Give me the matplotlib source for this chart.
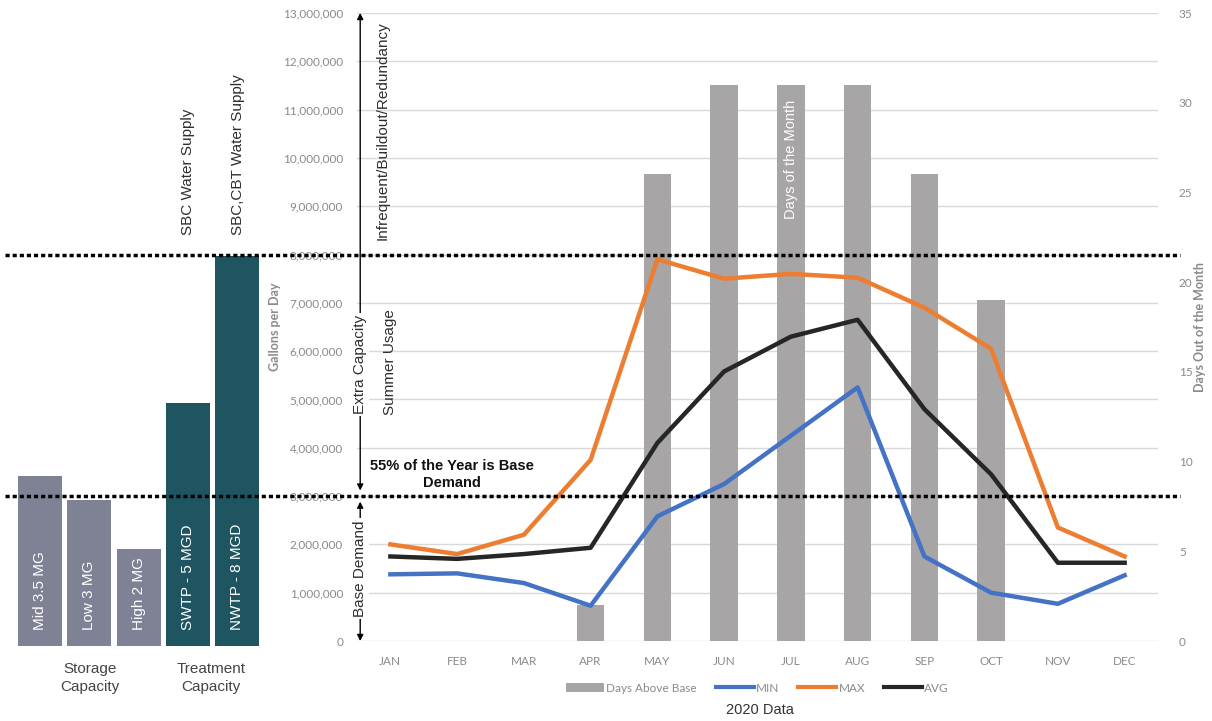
import matplotlib
matplotlib.use("Agg")
import matplotlib.pyplot as plt
from matplotlib.patches import Patch
from matplotlib.lines import Line2D
from matplotlib.ticker import FuncFormatter, MultipleLocator

# ---------------- data ----------------
months = ["JAN", "FEB", "MAR", "APR", "MAY", "JUN", "JUL", "AUG", "SEP", "OCT", "NOV", "DEC"]
days_above_base = [0, 0, 0, 2, 26, 31, 31, 31, 26, 19, 0, 0]
min_gpd = [1380000, 1400000, 1200000, 730000, 2580000, 3250000, 4250000, 5250000, 1750000, 1000000, 770000, 1360000]
max_gpd = [2000000, 1800000, 2200000, 3750000, 7900000, 7500000, 7600000, 7520000, 6900000, 6050000, 2350000, 1750000]
avg_gpd = [1750000, 1700000, 1800000, 1930000, 4100000, 5580000, 6300000, 6650000, 4800000, 3450000, 1620000, 1620000]

capacity_labels = ["Mid 3.5 MG", "Low 3 MG", "High 2 MG", "SWTP - 5 MGD", "NWTP - 8 MGD"]
capacity_values = [3.5e6, 3.0e6, 2.0e6, 5.0e6, 8.0e6]
capacity_groups = ["storage", "storage", "storage", "treatment", "treatment"]

base_demand_level = 3.0e6
capacity_level = 8.0e6

# ---------------- style ----------------
W, H = 1212, 721
def fx(px):
    return px / W
def fy(py):
    return 1 - py / H

ANN = ["Liberation Sans", "DejaVu Sans"]
TICK = ["Lato", "DejaVu Sans"]
TICK_COLOR = "#8a8a8a"
TEXT_COLOR = "#2e2e2e"
GROUP_COLORS = {"storage": "#7f8194", "treatment": "#1f5561"}
BAR_GREY = "#a7a5a6"
C_MIN, C_MAX, C_AVG = "#4472c4", "#ed7d31", "#262626"

fig = plt.figure(figsize=(W / 100, H / 100), dpi=100)
fig.patch.set_facecolor("white")

# ---------------- left capacity bars ----------------
axl = fig.add_axes([fx(15.35), fy(646), 246.5 / W, (646 - 13) / H])
axl.set_xlim(-0.5, 4.5)
axl.set_ylim(0, 13e6)
axl.axis("off")
xs = list(range(len(capacity_labels)))
axl.bar(xs, capacity_values, width=0.89,
        color=[GROUP_COLORS[g] for g in capacity_groups], zorder=1)
for xi, lab in zip(xs, capacity_labels):
    axl.text(xi, 0.33e6, lab, rotation=90, ha="center", va="bottom",
             color="white", fontsize=11, family=ANN)

fig.text(fx(90), fy(678), "Storage\nCapacity", ha="center", va="center",
         fontsize=11, family=ANN, color="#444444", linespacing=1.3)
fig.text(fx(211), fy(678), "Treatment\nCapacity", ha="center", va="center",
         fontsize=11, family=ANN, color="#444444", linespacing=1.3)
fig.text(fx(188), fy(235), "SBC Water Supply", rotation=90, ha="center", va="bottom",
         fontsize=11, family=ANN, color=TEXT_COLOR)
fig.text(fx(238), fy(235), "SBC,CBT Water Supply", rotation=90, ha="center", va="bottom",
         fontsize=11, family=ANN, color=TEXT_COLOR)

# ---------------- main chart ----------------
pos = [fx(357), fy(641), (1158 - 357) / W, (641 - 13) / H]
ax = fig.add_axes(pos)
x = list(range(len(months)))
ax.set_xlim(-0.5, len(months) - 0.5)
ax.set_ylim(0, 13e6)
ax.yaxis.set_major_locator(MultipleLocator(1e6))
ax.yaxis.set_major_formatter(FuncFormatter(lambda v, p: f"{int(v):,}"))
ax.grid(axis="y", color="#d9d9d9", lw=1)
ax.set_axisbelow(True)
for s in ax.spines.values():
    s.set_visible(False)
ax.tick_params(axis="both", length=0, colors=TICK_COLOR, labelsize=8.5)
ax.tick_params(axis="y", pad=10)
ax.tick_params(axis="x", pad=11)
ax.set_xticks(x)
ax.set_xticklabels(months)
for t in ax.get_xticklabels() + ax.get_yticklabels():
    t.set_family(TICK)
ax.set_ylabel("Gallons per Day", fontsize=9, color=TICK_COLOR, family=TICK, fontweight="bold")
ax.yaxis.set_label_coords(-0.095, 0.5)

# bars on right axis
ax2 = ax.twinx()
ax2.set_ylim(0, 35)
ax2.yaxis.set_major_locator(MultipleLocator(5))
for s in ax2.spines.values():
    s.set_visible(False)
ax2.tick_params(axis="y", length=0, colors=TICK_COLOR, labelsize=8.5, pad=15)
for t in ax2.get_yticklabels():
    t.set_family(TICK)
ax2.bar(x, days_above_base, width=0.41, color=BAR_GREY)
ax2.set_ylabel("Days Out of the Month", fontsize=9, color=TICK_COLOR, family=TICK,
               fontweight="bold", rotation=90)
ax2.yaxis.set_label_coords(1.045, 0.5)
ax2.text(6, 23.5, "Days of the Month", rotation=90, ha="center", va="bottom",
         color="white", fontsize=10.5, family=ANN)

# lines on top
ax3 = ax.twinx()
ax3.set_ylim(0, 13e6)
ax3.axis("off")
ax3.plot(x, min_gpd, color=C_MIN, lw=3.2)
ax3.plot(x, max_gpd, color=C_MAX, lw=3.2)
ax3.plot(x, avg_gpd, color=C_AVG, lw=3.2)

# dotted reference lines across the figure
for lvl in (capacity_level, base_demand_level):
    ax3.axhline(lvl, xmin=(5 - 357) / 801, xmax=(1180 - 357) / 801, color="black",
                lw=2.5, linestyle=(0, (1.2, 0.85)), dash_capstyle="butt", clip_on=False, zorder=5)

# arrows and annotations
bt = ax3.get_yaxis_transform()
ax_x = 0.004
ax3.annotate("", xy=(ax_x, 13e6), xytext=(ax_x, base_demand_level), xycoords=bt, textcoords=bt,
             arrowprops=dict(arrowstyle="<|-|>", color="black", lw=1, shrinkA=4, shrinkB=0,
                             mutation_scale=9), annotation_clip=False)
ax3.annotate("", xy=(ax_x, 0), xytext=(ax_x, base_demand_level), xycoords=bt, textcoords=bt,
             arrowprops=dict(arrowstyle="<|-|>", color="black", lw=1, shrinkA=4, shrinkB=0,
                             mutation_scale=9), annotation_clip=False)
box = dict(facecolor="white", edgecolor="none", pad=1.5)
ax3.text(ax_x, 5.72e6, "Extra Capacity", transform=bt, rotation=90, ha="center", va="center",
         fontsize=11, family=ANN, color=TEXT_COLOR, bbox=box)
ax3.text(ax_x, 1.5e6, "Base Demand", transform=bt, rotation=90, ha="center", va="center",
         fontsize=11, family=ANN, color=TEXT_COLOR, bbox=box)
ax3.text(0.032, 8.3e6, "Infrequent/Buildout/Redundancy", transform=bt, rotation=90,
         ha="center", va="bottom", fontsize=11, family=ANN, color=TEXT_COLOR)
ax3.text(0.041, 4.68e6, "Summer Usage", transform=bt, rotation=90,
         ha="center", va="bottom", fontsize=11, family=ANN, color=TEXT_COLOR)
ax3.text(0.119, 3.44e6, "55% of the Year is Base\nDemand", transform=bt,
         ha="center", va="center", multialignment="center", fontsize=10.5,
         fontweight="bold", family=ANN, color="#111111", linespacing=1.25)

# legend
handles = [Patch(facecolor=BAR_GREY, edgecolor="none", label="Days Above Base"),
           Line2D([], [], color=C_MIN, lw=3, label="MIN"),
           Line2D([], [], color=C_MAX, lw=3, label="MAX"),
           Line2D([], [], color=C_AVG, lw=3, label="AVG")]
ax3.legend(handles=handles, loc="center", bbox_to_anchor=(0.5, -0.075), ncol=4,
           frameon=False, handlelength=3.2, handletextpad=0.2,
           columnspacing=1.6, labelcolor=TICK_COLOR, prop={"family": TICK, "size": 8.5})

fig.text(fx(760), fy(710), "2020 Data", ha="center", va="center", fontsize=10.5,
         family=ANN, color="#333333")

fig.savefig("out.png", dpi=100, facecolor="white")
